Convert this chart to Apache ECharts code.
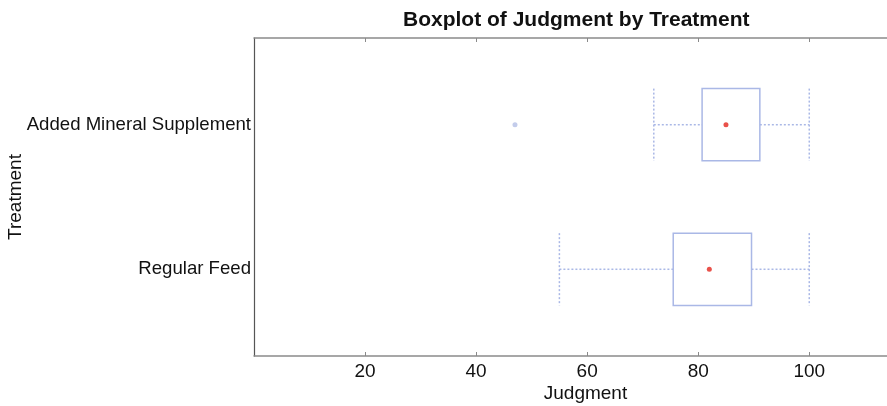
<!DOCTYPE html>
<html>
<head>
<meta charset="utf-8">
<script src="https://cdn.jsdelivr.net/npm/echarts@6/dist/echarts.min.js"></script>
<style>html,body{margin:0;padding:0;background:#fff}#c{width:887px;height:406px}</style>
</head>
<body>
<div id="c"></div>
<script>
const categories = ['Regular Feed', 'Added Mineral Supplement'];
const whiskerLow = [55, 72];
const q1 = [75.5, 80.7];
const q3 = [89.6, 91.1];
const whiskerHigh = [100, 100];
const means = [82, 85];
const outlierValues = [47];
const outlierGroups = ['Added Mineral Supplement'];
const xTicks = [20, 40, 60, 80, 100];

const FONT = "'Liberation Sans', Arial, Helvetica, sans-serif";
const BOX = '#aab8e6';

const boxData = categories.map((c, i) => [i, whiskerLow[i], q1[i], q3[i], whiskerHigh[i]]);
const meanData = categories.map((c, i) => [means[i], i]);
const outData = outlierValues.map((v, i) => [v, categories.indexOf(outlierGroups[i])]);

const chart = echarts.init(document.getElementById('c'));
chart.setOption({
  animation: false,
  title: {
    text: 'Boxplot of Judgment by Treatment',
    left: 398, top: 5,
    textStyle: { fontFamily: FONT, fontSize: 21, fontWeight: 'bold', color: '#111' }
  },
  grid: { left: 254, right: 0, top: 38, bottom: 50, containLabel: false, outerBoundsMode: 'none' },
  xAxis: [{
    type: 'value', min: 0, max: 114, position: 'bottom',
    name: 'Judgment', nameLocation: 'middle', nameGap: 28, nameMoveOverlap: false,
    nameTextStyle: { fontFamily: FONT, fontSize: 19, color: '#111', padding: [0, 0, 0, 30] },
    axisLine: { show: true, onZero: false, lineStyle: { color: '#8a8a8a', width: 1.5 } },
    axisTick: { show: true, inside: true, length: 4, customValues: xTicks, lineStyle: { color: '#8a8a8a' } },
    axisLabel: { customValues: xTicks, fontFamily: FONT, fontSize: 19, color: '#111', margin: 6 },
    splitLine: { show: false }
  }, {
    type: 'value', min: 0, max: 114, position: 'top',
    axisLine: { show: true, onZero: false, lineStyle: { color: '#8a8a8a', width: 1.5 } },
    axisTick: { show: true, inside: true, length: 4, customValues: xTicks, lineStyle: { color: '#8a8a8a' } },
    axisLabel: { show: false },
    splitLine: { show: false }
  }],
  yAxis: {
    type: 'value', min: -0.6, max: 1.6,
    name: 'Treatment', nameLocation: 'middle', nameGap: 229, nameMoveOverlap: false,
    nameTextStyle: { fontFamily: FONT, fontSize: 19, color: '#111' },
    axisLine: { show: true, onZero: false, lineStyle: { color: '#555', width: 1.2 } },
    axisTick: { show: false },
    axisLabel: {
      customValues: [0, 1],
      formatter: v => categories[Math.round(v)] || '',
      fontFamily: FONT, fontSize: 18.6, color: '#111', margin: 3
    },
    splitLine: { show: false }
  },
  series: [{
    type: 'custom',
    data: boxData,
    encode: { x: [1, 2, 3, 4], y: 0 },
    renderItem: function (params, api) {
      const y = api.value(0), lo = api.value(1), a = api.value(2), b = api.value(3), hi = api.value(4);
      const h = 0.25;
      const tl = api.coord([a, y + h]), br = api.coord([b, y - h]);
      const loT = api.coord([lo, y + h]), loB = api.coord([lo, y - h]);
      const hiT = api.coord([hi, y + h]), hiB = api.coord([hi, y - h]);
      const c = api.coord([a, y]), d = api.coord([b, y]), e = api.coord([lo, y]), f = api.coord([hi, y]);
      const dot = { stroke: BOX, lineWidth: 1.5, lineDash: [2, 2], fill: null };
      return {
        type: 'group',
        children: [
          { type: 'line', shape: { x1: e[0], y1: e[1], x2: c[0], y2: c[1] }, style: dot },
          { type: 'line', shape: { x1: d[0], y1: d[1], x2: f[0], y2: f[1] }, style: dot },
          { type: 'line', shape: { x1: loT[0], y1: loT[1], x2: loB[0], y2: loB[1] }, style: dot },
          { type: 'line', shape: { x1: hiT[0], y1: hiT[1], x2: hiB[0], y2: hiB[1] }, style: dot },
          { type: 'rect', shape: { x: tl[0], y: tl[1], width: br[0] - tl[0], height: br[1] - tl[1] },
            style: { stroke: BOX, lineWidth: 1.5, fill: '#fff' } }
        ]
      };
    },
    z: 2
  }, {
    type: 'scatter', data: meanData, symbol: 'circle', symbolSize: 5,
    itemStyle: { color: '#e3261d' }, z: 3
  }, {
    type: 'scatter', data: outData, symbol: 'circle', symbolSize: 5,
    itemStyle: { color: '#b4bfe6' }, z: 3
  }]
});
</script>
</body>
</html>
